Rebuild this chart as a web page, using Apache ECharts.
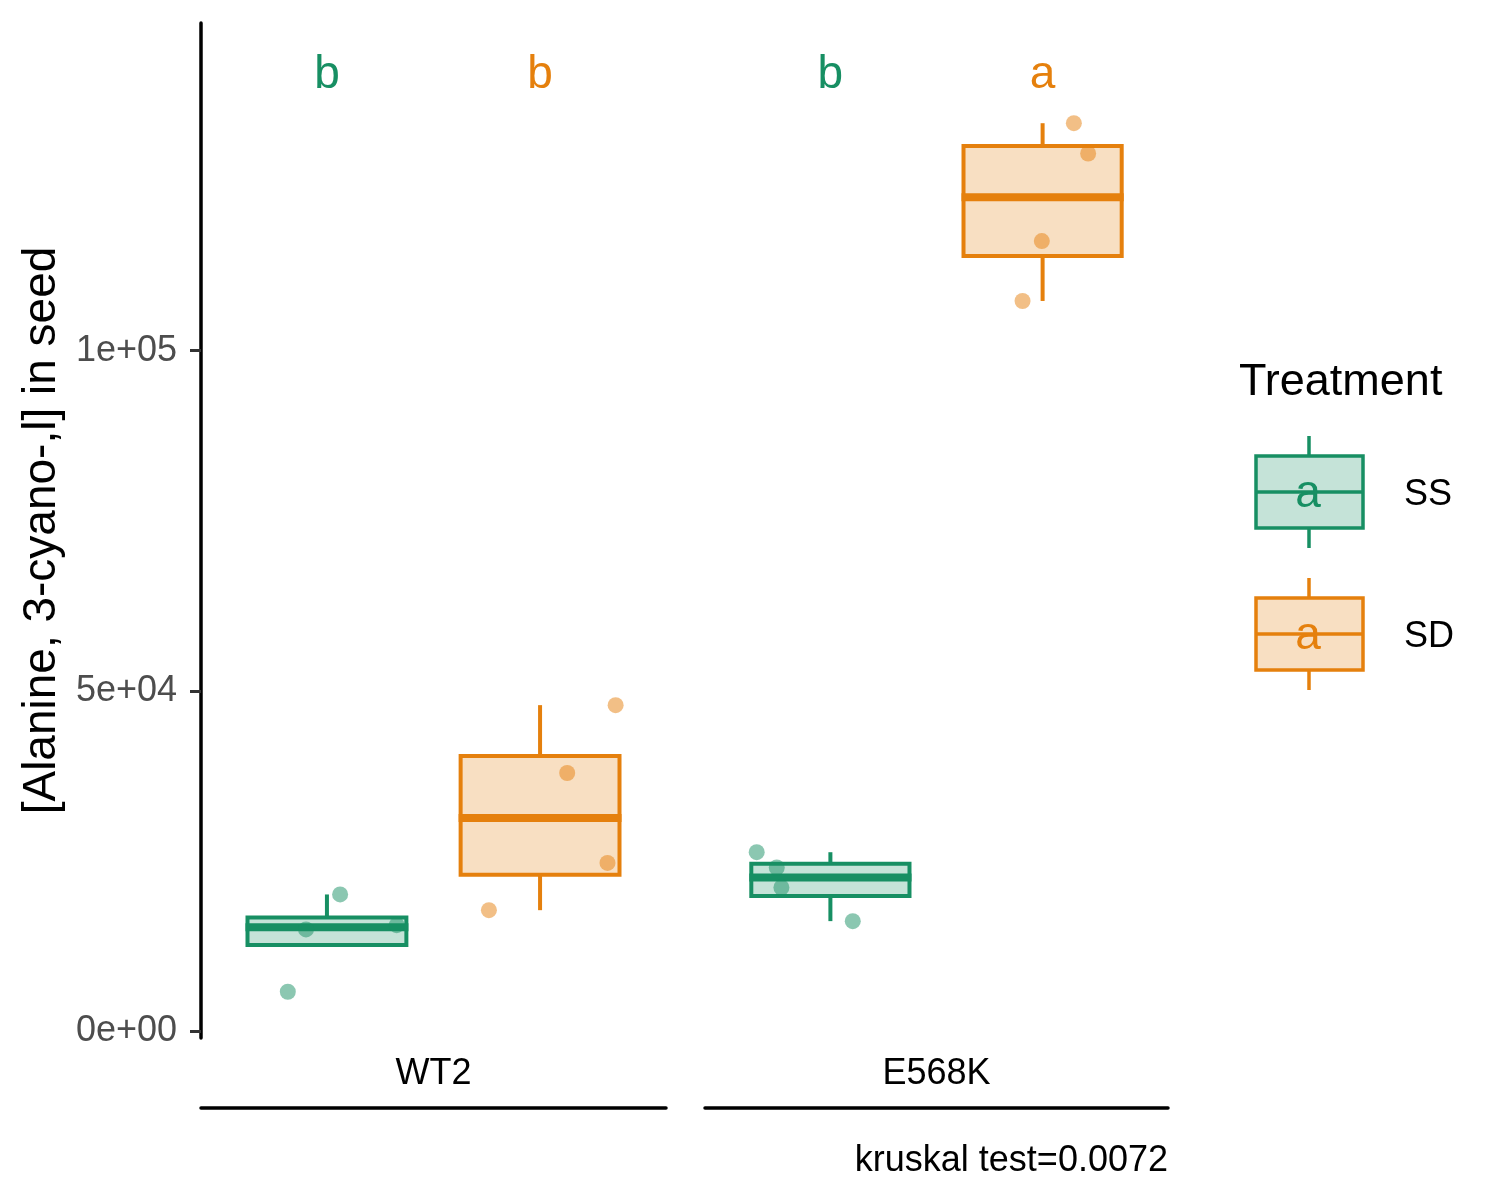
<!DOCTYPE html>
<html style="height: 100%">
<head>
    <meta charset="utf-8">
</head>
<body style="height: 100%; margin: 0; background: #ffffff">
<div id="container" style="width: 1500px; height: 1200px"></div>
<script type="text/javascript" src="https://cdn.jsdelivr.net/npm/echarts@6/dist/echarts.min.js"></script>
<script type="text/javascript">
    var genotypes = ['WT2', 'E568K'];
    var treatments = ['SS', 'SD'];
    var lineColors = ['#178F63', '#E5800D'];
    var fillColors = ['rgba(23,143,99,0.25)', 'rgba(229,128,13,0.25)'];
    var pointColors = ['rgba(23,143,99,0.5)', 'rgba(229,128,13,0.5)'];

    // letters of the group test, per treatment
    var lettersWT2 = ['b', 'b'];
    var lettersE568K = ['b', 'a'];
    var letterValue = 140500;

    // box stats: [whisker low, Q1, median, Q3, whisker high]
    var boxWT2_SS = [12640, 12640, 15250, 16690, 20070];
    var boxWT2_SD = [17760, 22970, 31320, 40420, 47900];
    var boxE568K_SS = [16150, 19860, 22560, 24590, 26280];
    var boxE568K_SD = [107310, 113920, 122560, 130100, 133440];

    // jittered points: [horizontal jitter, value]
    var ptsWT2_SS = [[0.034, 20070], [-0.054, 14930], [-0.101, 5770], [0.180, 15560]];
    var ptsWT2_SD = [[0.195, 47900], [0.070, 37920], [0.174, 24710], [-0.132, 17760]];
    var ptsE568K_SS = [[-0.191, 26280], [-0.139, 24030], [-0.127, 21090], [0.058, 16150]];
    var ptsE568K_SD = [[0.081, 133440], [0.118, 128990], [-0.002, 116120], [-0.052, 107310]];

    var yTicks = [0, 50000, 100000];
    var yMin = -1030, yMax = 148170;
    var dodge = [-0.275, 0.275];
    var boxHalf = 0.205;

    var boxes = [[boxWT2_SS, boxWT2_SD], [boxE568K_SS, boxE568K_SD]];
    var points = [[ptsWT2_SS, ptsWT2_SD], [ptsE568K_SS, ptsE568K_SD]];
    var letters = [lettersWT2, lettersE568K];

    var font = 'Liberation Sans, Arial, Helvetica, sans-serif';

    function sci(v) {
        if (v === 0) return '0e+00';
        var e = Math.floor(Math.log10(Math.abs(v)));
        var m = Math.round(v / Math.pow(10, e) * 100) / 100;
        return m + 'e' + (e < 0 ? '-' : '+') + (Math.abs(e) < 10 ? '0' : '') + Math.abs(e);
    }

    function boxRenderer(t, letter) {
        return function (params, api) {
            var x = api.value(0);
            var low = api.coord([x, api.value(1)]);
            var q1 = api.coord([x - boxHalf, api.value(2)]);
            var med = api.coord([x, api.value(3)]);
            var q3 = api.coord([x + boxHalf, api.value(4)]);
            var high = api.coord([x, api.value(5)]);
            var lab = api.coord([x, letterValue]);
            var stroke = lineColors[t];
            return {
                type: 'group',
                children: [
                    {type: 'line', shape: {x1: low[0], y1: low[1], x2: low[0], y2: q1[1]},
                        style: {stroke: stroke, lineWidth: 4}},
                    {type: 'line', shape: {x1: high[0], y1: high[1], x2: high[0], y2: q3[1]},
                        style: {stroke: stroke, lineWidth: 4}},
                    {type: 'rect', shape: {x: q1[0], y: q3[1], width: q3[0] - q1[0], height: q1[1] - q3[1]},
                        style: {fill: fillColors[t], stroke: stroke, lineWidth: 4}},
                    {type: 'line', shape: {x1: q1[0] - 2, y1: med[1], x2: q3[0] + 2, y2: med[1]},
                        style: {stroke: stroke, lineWidth: 8}},
                    {type: 'text', x: lab[0], y: lab[1],
                        style: {text: letter, fill: stroke, font: '46px ' + font,
                            align: 'center', verticalAlign: 'middle'}}
                ]
            };
        };
    }

    function nameOf(name) {
        return function () { return name; };
    }

    var grids = [], xAxes = [], yAxes = [], series = [];
    var gridLefts = [201, 705], gridWidths = [465, 463];

    for (var g = 0; g < genotypes.length; g++) {
        grids.push({left: gridLefts[g], width: gridWidths[g], top: 23, height: 1015,
            containLabel: false, outerBoundsMode: 'none'});
        xAxes.push({
            type: 'value', gridIndex: g, min: 0.4, max: 1.6,
            offset: 70,
            axisLine: {show: true, onZero: false, lineStyle: {color: '#000', width: 3.5}},
            axisTick: {show: false},
            splitLine: {show: false},
            axisLabel: {
                customValues: [1], inside: true, margin: 16,
                formatter: nameOf(genotypes[g]),
                color: '#000', fontSize: 36, fontFamily: font
            }
        });
        yAxes.push({
            type: 'value', gridIndex: g, min: yMin, max: yMax, show: g === 0,
            name: g === 0 ? '[Alanine, 3-cyano-,l] in seed' : '',
            nameLocation: 'middle', nameGap: 136, nameRotate: 90,
            nameTextStyle: {color: '#000', fontSize: 46, fontFamily: font},
            axisLine: {show: true, onZero: false, lineStyle: {color: '#000', width: 3.5}},
            axisTick: {show: true, customValues: yTicks, length: 11, lineStyle: {color: '#333', width: 3}},
            axisLabel: {customValues: yTicks, formatter: sci, margin: 24,
                color: '#4d4d4d', fontSize: 36, fontFamily: font},
            splitLine: {show: false}
        });
        for (var t = 0; t < treatments.length; t++) {
            var b = boxes[g][t];
            var pts = [];
            for (var i = 0; i < points[g][t].length; i++) {
                pts.push([1 + dodge[t] + points[g][t][i][0], points[g][t][i][1]]);
            }
            series.push({
                name: treatments[t], type: 'custom', xAxisIndex: g, yAxisIndex: g, z: 2,
                renderItem: boxRenderer(t, letters[g][t]),
                data: [[1 + dodge[t], b[0], b[1], b[2], b[3], b[4]]],
                silent: true
            });
            series.push({
                name: treatments[t], type: 'scatter', xAxisIndex: g, yAxisIndex: g, z: 3,
                symbolSize: 16,
                itemStyle: {color: pointColors[t], opacity: 1},
                data: pts,
                silent: true
            });
        }
    }

    // legend drawn as ggplot-style keys
    var legend = [{type: 'text', left: 1239, top: 360,
        style: {text: 'Treatment', font: '45px ' + font, fill: '#000'}}];
    var keyCenters = [492, 634];
    treatments.forEach(function (name, t) {
        var cy = keyCenters[t], c = lineColors[t];
        legend.push(
            {type: 'line', shape: {x1: 1309, y1: cy - 56, x2: 1309, y2: cy - 36}, style: {stroke: c, lineWidth: 3.5}},
            {type: 'line', shape: {x1: 1309, y1: cy + 36, x2: 1309, y2: cy + 56}, style: {stroke: c, lineWidth: 3.5}},
            {type: 'rect', shape: {x: 1256, y: cy - 36, width: 107, height: 72},
                style: {fill: fillColors[t], stroke: c, lineWidth: 3.5}},
            {type: 'line', shape: {x1: 1256, y1: cy, x2: 1363, y2: cy}, style: {stroke: c, lineWidth: 3.5}},
            {type: 'text', x: 1308, y: cy + 2,
                style: {text: 'a', font: '46px ' + font, fill: c, align: 'center', verticalAlign: 'middle'}},
            {type: 'text', x: 1404, y: cy + 3,
                style: {text: name, font: '36px ' + font, fill: '#000', verticalAlign: 'middle'}}
        );
    });

    var myChart = echarts.init(document.getElementById('container'), null, {renderer: 'canvas'});
    myChart.setOption({
        backgroundColor: '#ffffff',
        animation: false,
        textStyle: {fontFamily: font},
        title: {
            text: 'kruskal test=0.0072', right: 332, top: 1143, padding: 0,
            textStyle: {color: '#000', fontSize: 36, fontWeight: 'normal', fontFamily: font}
        },
        grid: grids,
        xAxis: xAxes,
        yAxis: yAxes,
        series: series,
        graphic: legend
    });
</script>
</body>
</html>
